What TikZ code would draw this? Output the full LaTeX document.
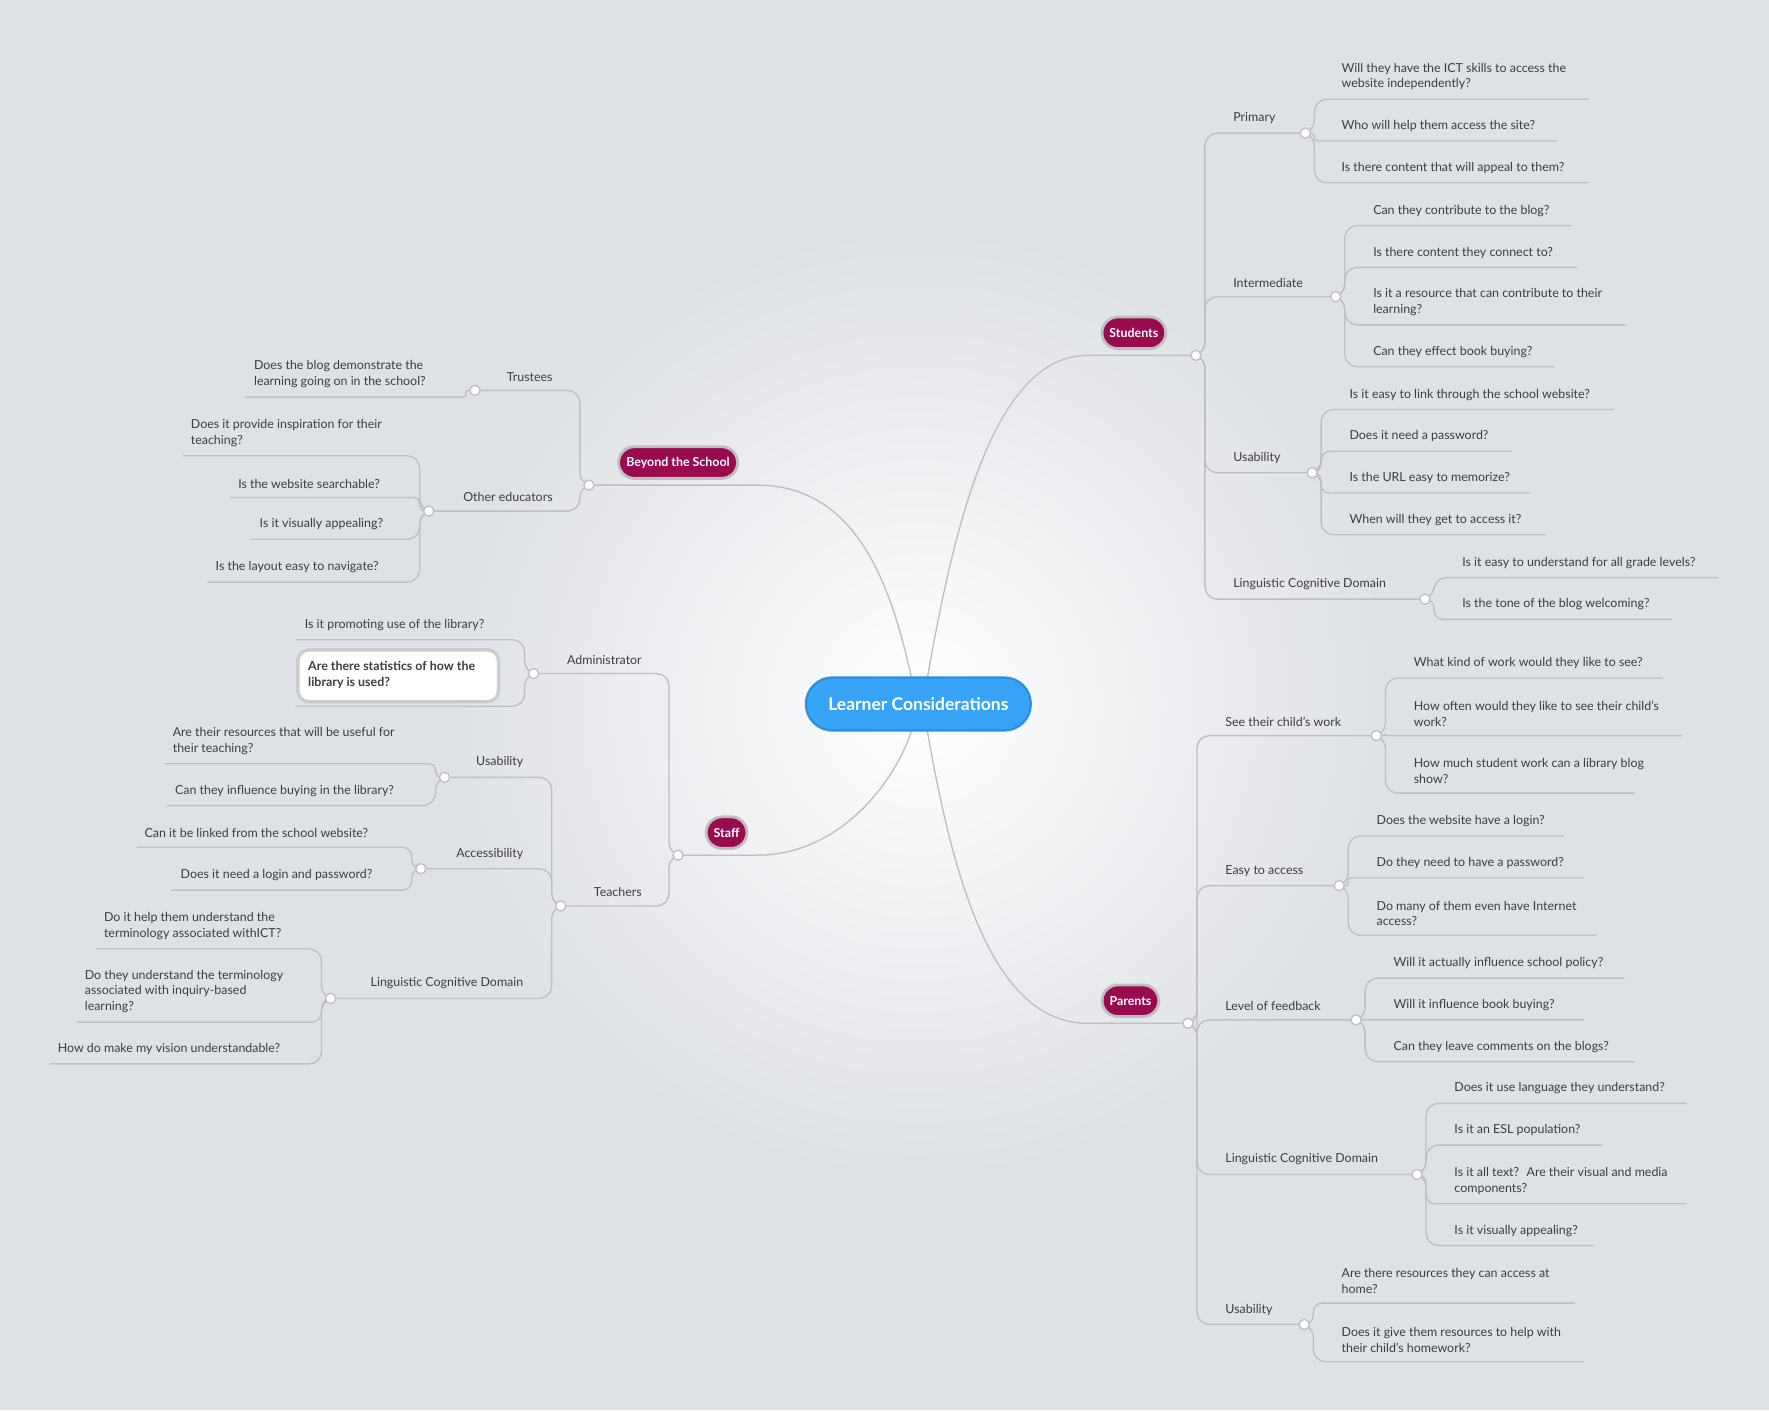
\documentclass[tikz,border=0pt]{standalone}
\usepackage{fontspec}
\setmainfont{Lato}
\usetikzlibrary{shapes.misc}
\definecolor{bg}{HTML}{DEE1E6}
\definecolor{ln}{HTML}{BDBFC3}
\definecolor{tx}{HTML}{3E3E3E}
\definecolor{maroon}{HTML}{9A0A4F}
\definecolor{blu}{HTML}{37A3F7}
\definecolor{blud}{HTML}{2C8FE0}
\tikzset{
 conn/.style={draw=ln,line width=1.2pt,rounded corners=11pt},
 leaf/.style={inner sep=0pt,align=left,text=tx,font=\fontsize{11}{14}\selectfont},
 leafr/.style={leaf,align=right,anchor=south east},
 dot/.style={circle,draw=ln,fill=white,line width=1.2pt,inner sep=0pt,minimum size=9pt},
 pill/.style={rounded rectangle,fill=maroon,draw=ln,line width=2.5pt,text=white,font=\bfseries\fontsize{11}{12}\selectfont,minimum height=28pt,inner xsep=6pt},
}
\newcommand\RL[6][11pt]{\draw[conn,rounded corners=#1] (#2) -- ++(8,0) |- (#5,#4); \node[leaf,anchor=south west] at (#3,#4-8) {#6};}
\newcommand\LL[6][11pt]{\draw[conn,rounded corners=#1] (#2) -- ++(-8,0) |- (#5,#4); \node[leaf,anchor=south west] at (#3,#4-8) {#6};}
\newcommand\RBr[6]{\coordinate (#6) at (#4,#3); \draw[conn] (#1) -- ++(8,0) |- (#6); \node[leaf,anchor=south west] at (#2,#3-8) {#5};}
\newcommand\LBr[6]{\coordinate (#6) at (#4,#3); \draw[conn] (#1) -- ++(-8,0) |- (#6); \node[leafr] at (#2,#3-8) {#5};}
\begin{document}
\begin{tikzpicture}[x=1pt,y=-1pt]
\fill[bg] (0,0) rectangle (1568,1250);
\shade[inner color=white,outer color=bg] (814,624) circle (420);
\useasboundingbox (0,0) rectangle (1568,1250);
\coordinate (s) at (1060,315);
\coordinate (p) at (1053,907);
\coordinate (b) at (522,430);
\coordinate (st) at (601,758);
\coordinate (cNE) at (822,601); \coordinate (cSE) at (822,648);
\coordinate (cNW) at (808,601); \coordinate (cSW) at (808,648);
\draw[conn] (cNE) .. controls (845,470) and (880,315) .. (975,315) -- (s);
\draw[conn] (cSE) .. controls (845,780) and (880,907) .. (975,907) -- (p);
\draw[conn] (cNW) .. controls (790,520) and (760,430) .. (660,430) -- (b);
\draw[conn] (cSW) .. controls (790,700) and (740,758) .. (660,758) -- (st);
% Students
\RBr{s}{1093}{118}{1157}{Primary}{pr}
\RL{pr}{1189}{88}{1408}{Will they have the ICT skills to access the\\website independently?}
\RL[3pt]{pr}{1189}{125}{1380}{Who will help them access the site?}
\RL{pr}{1189}{162}{1408}{Is there content that will appeal to them?}
\RBr{s}{1093}{263}{1184}{Intermediate}{im}
\RL{im}{1217}{200}{1393}{Can they contribute to the blog?}
\RL{im}{1217}{237}{1398}{Is there content they connect to?}
\RL{im}{1217}{288}{1441}{Is it a resource that can contribute to their\\learning?}
\RL{im}{1217}{325}{1378}{Can they effect book buying?}
\RBr{s}{1093}{419}{1163}{Usability}{su}
\RL{su}{1196}{363}{1431}{Is it easy to link through the school website?}
\RL[8pt]{su}{1196}{400}{1340}{Does it need a password?}
\RL[7pt]{su}{1196}{437}{1356}{Is the URL easy to memorize?}
\RL{su}{1196}{474}{1370}{When will they get to access it?}
\RBr{s}{1093}{531}{1263}{Linguistic Cognitive Domain}{sl}
\RL{sl}{1296}{512}{1523}{Is it easy to understand for all grade levels?}
\RL[8pt]{sl}{1296}{549}{1482}{Is the tone of the blog welcoming?}
% Parents
\RBr{p}{1086}{652}{1220}{See their child's work}{pw}
\RL{pw}{1253}{601}{1474}{What kind of work would they like to see?}
\RL[1pt]{pw}{1253}{652}{1491}{How often would they like to see their child's\\work?}
\RL{pw}{1253}{703}{1449}{How much student work can a library blog\\show?}
\RBr{p}{1086}{785}{1187}{Easy to access}{pe}
\RL{pe}{1220}{741}{1386}{Does the website have a login?}
\RL[3pt]{pe}{1220}{778}{1404}{Do they need to have a password?}
\RL{pe}{1220}{829}{1415}{Do many of them even have Internet\\access?}
\RBr{p}{1086}{904}{1202}{Level of feedback}{pf}
\RL{pf}{1235}{867}{1440}{Will it actually influence school policy?}
\RL[1pt]{pf}{1235}{904}{1404}{Will it influence book buying?}
\RL{pf}{1235}{941}{1449}{Can they leave comments on the blogs?}
\RBr{p}{1086}{1041}{1256}{Linguistic Cognitive Domain}{pl}
\RL{pl}{1289}{978}{1495}{Does it use language they understand?}
\RL{pl}{1289}{1015}{1420}{Is it an ESL population?}
\RL[8pt]{pl}{1289}{1067}{1495}{Is it all text?~ Are their visual and media\\components?}
\RL{pl}{1289}{1104}{1413}{Is it visually appealing?}
\RBr{p}{1086}{1174}{1156}{Usability}{pu}
\RL[8pt]{pu}{1189}{1155}{1396}{Are there resources they can access at\\home?}
\RL{pu}{1189}{1207}{1404}{Does it give them resources to help with\\their child's homework?}
% Beyond the School
\LBr{b}{490}{346}{421}{Trustees}{bt}
\LL[2pt]{bt}{225}{352}{217}{Does the blog demonstrate the\\learning going on in the school?}
\LBr{b}{490}{453}{380}{Other educators}{bo}
\LL{bo}{169}{404}{162}{Does it provide inspiration for their\\teaching?}
\LL[5pt]{bo}{211}{441}{204}{Is the website searchable?}
\LL{bo}{230}{478}{222}{Is it visually appealing?}
\LL{bo}{191}{516}{184}{Is the layout easy to navigate?}
% Staff
\LBr{st}{569}{597}{473}{Administrator}{sa}
\LL{sa}{270}{567}{262}{Is it promoting use of the library?}
\LL{sa}{273}{626}{262}{}
\node[draw=ln!80,line width=3pt,fill=white,rounded corners=10pt,minimum width=178pt,minimum height=46pt] (hl) at (353,599) {};
\node[leaf,font=\bfseries\fontsize{11}{14}\selectfont,anchor=west] (hlt) at (273,598) {Are there statistics of how the\\library is used?};
\LBr{st}{569}{803}{497}{Teachers}{te}
\LBr{te}{464}{689}{394}{Usability}{tu}
\LL[5pt]{tu}{153}{677}{146}{Are their resources that will be useful for\\their teaching?}
\LL{tu}{155}{714}{148}{Can they influence buying in the library?}
\LBr{te}{464}{770}{373}{Accessibility}{ta}
\LL[8pt]{ta}{128}{751}{121}{Can it be linked from the school website?}
\LL[8pt]{ta}{160}{789}{152}{Does it need a login and password?}
\LBr{te}{464}{885}{293}{Linguistic Cognitive Domain}{tl}
\LL{tl}{92}{841}{85}{Do it help them understand the\\terminology associated withICT?}
\LL[9pt]{tl}{75}{906}{68}{Do they understand the terminology\\associated with inquiry-based\\learning?}
\LL{tl}{51}{943}{44}{How do make my vision understandable?}
\foreach \c in {s,p,b,st,pr,im,su,sl,pw,pe,pf,pl,pu,bt,bo,sa,te,tu,ta,tl} \node[dot] at (\c) {};
\node[pill] (ns) at (1005,295) {Students};
\node[pill] (np) at (1002,887) {Parents};
\node[pill] (nb) at (601,410) {Beyond the School};
\node[pill] (nst) at (644,738) {Staff};
\node[rounded rectangle,fill=blu,draw=blud,line width=2pt,text=white,font=\bfseries\fontsize{15.5}{18}\selectfont,minimum width=206pt,minimum height=47pt] (c) at (814,624) {Learner Considerations};
\end{tikzpicture}
\end{document}
